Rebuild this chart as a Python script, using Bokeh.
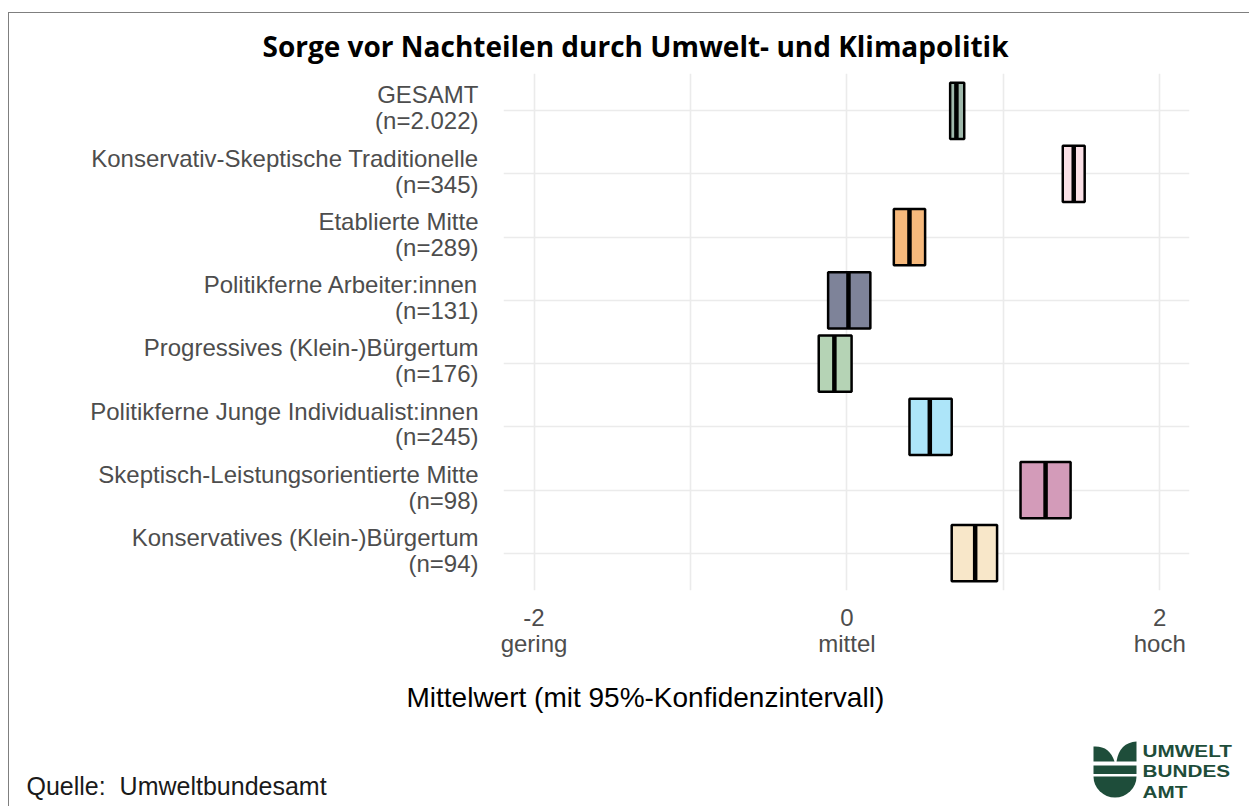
import numpy as np
from bokeh.plotting import figure
from bokeh.layouts import column
from bokeh.models import (FixedTicker, LinearAxis, Range1d, ColumnDataSource, Title, Div)
from bokeh.embed import file_html
from bokeh.resources import INLINE

# ---------------- data ----------------
groups = ["GESAMT", "Konservativ-Skeptische Traditionelle", "Etablierte Mitte",
          "Politikferne Arbeiter:innen", "Progressives (Klein-)Bürgertum",
          "Politikferne Junge Individualist:innen", "Skeptisch-Leistungsorientierte Mitte",
          "Konservatives (Klein-)Bürgertum"]
n_labels = ["(n=2.022)", "(n=345)", "(n=289)", "(n=131)", "(n=176)", "(n=245)", "(n=98)", "(n=94)"]
means = [0.70, 1.45, 0.40, 0.01, -0.08, 0.53, 1.27, 0.82]
lower = [0.66, 1.38, 0.30, -0.12, -0.18, 0.40, 1.11, 0.67]
upper = [0.75, 1.52, 0.50, 0.15, 0.03, 0.67, 1.43, 0.96]
colors = ["#9fb8ab", "#fae0e6", "#f6b97c", "#7e8399", "#b5d3b5", "#ade5f9", "#d39bb9", "#f8e7c9"]
x_ticks = [-2, 0, 2]
x_tick_numbers = ["-2", "0", "2"]
x_tick_words = ["gering", "mittel", "hoch"]
title_text = "Sorge vor Nachteilen durch Umwelt- und Klimapolitik"
x_title = "Mittelwert (mit 95%-Konfidenzintervall)"
source_text = "Quelle:  Umweltbundesamt"
logo_lines = ["UMWELT", "BUNDES", "AMT"]

# ---------------- page geometry (page pixels) ----------------
OX, OY = 9.5, 13.5                     # content origin inside the grey border
FRAME_L, FRAME_R, FRAME_T, FRAME_B = 503, 1190, 73, 591
W = 1240
MAIN_H = 729
FOOT_H = 64
BORDER = "1.5px solid #7f7f7f"
LABEL_FONT = "Liberation Sans"
GRAY = "#4d4d4d"
LOGO = "#1e4d3a"

# ---------------- main chart ----------------
n = len(groups)
rows = [float(n - i) for i in range(n)]   # GESAMT at top
half = 0.445
src = ColumnDataSource(dict(
    lower=lower, upper=upper, means=means, color=colors,
    top=[r + half for r in rows], bottom=[r - half for r in rows]))

p = figure(width=W, height=MAIN_H, x_range=Range1d(-2.195, 2.19), y_range=Range1d(0.41, 8.59),
           output_backend="svg", toolbar_location=None,
           min_border_left=round(FRAME_L - OX), min_border_right=round(W - (FRAME_R - OX)),
           min_border_top=round(FRAME_T - OY), min_border_bottom=round(MAIN_H - (FRAME_B - OY)))
p.outline_line_color = None
p.background_fill_color = "white"
p.border_fill_color = "white"

p.title = Title(text=title_text, align="left", offset=262 - FRAME_L,
                text_font="Open Sans", text_font_style="bold", text_font_size="28px",
                text_color="black", standoff=18)

p.xgrid.ticker = FixedTicker(ticks=[-2, -1, 0, 1, 2])
p.ygrid.ticker = FixedTicker(ticks=rows)
for g in (p.xgrid, p.ygrid):
    g.grid_line_color = "#ebebeb"
    g.grid_line_width = 1.6

up_off, down_off = 0.25, 0.16
ytick_vals, overrides = [], {}
for r, gname, nl in zip(rows, groups, n_labels):
    a = r + up_off
    b = r - down_off
    ytick_vals += [a, b]
    overrides[a] = gname
    overrides[b] = nl
yax = p.yaxis[0]
yax.ticker = FixedTicker(ticks=ytick_vals)
yax.major_label_overrides = overrides
yax.axis_line_color = None
yax.major_tick_line_color = None
yax.minor_tick_line_color = None
yax.major_tick_out = 0
yax.major_tick_in = 0
yax.major_label_standoff = 25
yax.major_label_text_font = LABEL_FONT
yax.major_label_text_font_size = "24px"
yax.major_label_text_color = GRAY

xax = p.xaxis[0]
xax.ticker = FixedTicker(ticks=x_ticks)
xax.major_label_overrides = dict(zip(x_ticks, x_tick_numbers))
xax2 = LinearAxis(ticker=FixedTicker(ticks=x_ticks),
                  major_label_overrides=dict(zip(x_ticks, x_tick_words)))
p.add_layout(xax2, "below")
for ax, so in ((xax, 18), (xax2, 1)):
    ax.axis_line_color = None
    ax.major_tick_line_color = None
    ax.minor_tick_line_color = None
    ax.major_tick_out = 0
    ax.major_tick_in = 0
    ax.major_label_standoff = so
    ax.major_label_text_font = LABEL_FONT
    ax.major_label_text_font_size = "24px"
    ax.major_label_text_color = GRAY

XT_SIZE = 28
xt_width = 17.06 * XT_SIZE
p.add_layout(Title(text=x_title, align="left", offset=round(645 - xt_width / 2 - FRAME_L),
                   text_font=LABEL_FONT, text_font_style="normal",
                   text_font_size=f"{XT_SIZE}px", text_color="black", standoff=40), "below")

p.quad(left="lower", right="upper", top="top", bottom="bottom", source=src,
       fill_color="color", line_color="black", line_width=2.5)
p.segment(x0="means", x1="means", y0="bottom", y1="top", source=src,
          line_color="black", line_width=4.5)

# ---------------- footer: source + logo (inline SVG text) ----------------
FY = OY + MAIN_H          # page y of footer top
def fx(x): return round(x - OX, 1)
def fy(y): return round(y - FY, 1)

left_leaf = (f"M{fx(1094)},{fy(747)} Q{fx(1110)},{fy(746)} {fx(1115)},{fy(762)} "
             f"L{fx(1094)},{fy(762)} Z")
right_leaf = (f"M{fx(1137)},{fy(742)} L{fx(1137)},{fy(762)} L{fx(1117)},{fy(762)} "
              f"Q{fx(1120)},{fy(743)} {fx(1137)},{fy(742)} Z")
band = f"M{fx(1094)},{fy(766)} L{fx(1137)},{fy(766)} L{fx(1137)},{fy(774.5)} L{fx(1094)},{fy(774.5)} Z"
bowl = f"M{fx(1094)},{fy(777)} L{fx(1137)},{fy(777)} A21.5,21 0 0 1 {fx(1094)},{fy(777)} Z"
paths = "".join(f'<path d="{d}" fill="{LOGO}"/>' for d in (left_leaf, right_leaf, band, bowl))
logo_txt = "".join(
    f'<text transform="translate({fx(1143)},{fy(yb)}) scale(1.22,1)" x="0" y="0" '
    f'font-family="DejaVu Sans" font-weight="bold" font-size="17" fill="{LOGO}">{t}</text>'
    for t, yb in zip(logo_lines, (757, 777.5, 798)))
src_txt = (f'<text x="{fx(27)}" y="{fy(795)}" font-family="Open Sans" font-size="25" '
           f'fill="#1a1a1a" xml:space="preserve" style="white-space:pre">{source_text}</text>')
svg = (f'<svg xmlns="http://www.w3.org/2000/svg" width="{W}" height="{FOOT_H}" '
       f'style="display:block;overflow:visible">{src_txt}{paths}{logo_txt}</svg>')
foot = Div(text=svg, width=W, height=FOOT_H, margin=0,
           styles={"padding": "0", "overflow": "visible"})

layout = column(p, foot, spacing=0, margin=(12, 0, 0, 8),
                styles={"border-top": BORDER, "border-left": BORDER})
open("out.html", "w").write(file_html(layout, INLINE))
